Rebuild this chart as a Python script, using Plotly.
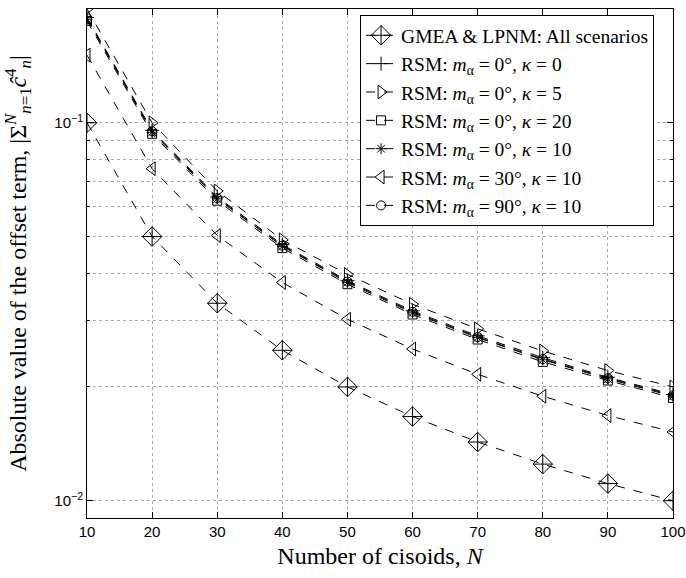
import plotly.graph_objects as go
import math

N = [10, 20, 30, 40, 50, 60, 70, 80, 90, 100]

gmea = [0.1, 0.05, 0.0333, 0.025, 0.02, 0.0167, 0.0143, 0.0125, 0.0111, 0.01]
rsm_0_k0 = [0.190, 0.0955, 0.0636, 0.0476, 0.0382, 0.0318, 0.0273, 0.0239, 0.0212, 0.0191]
rsm_0_k5 = [0.200, 0.100, 0.066, 0.049, 0.0397, 0.0331, 0.0285, 0.0249, 0.0221, 0.0200]
rsm_0_k20 = [0.186, 0.0935, 0.0622, 0.0466, 0.0374, 0.0311, 0.0267, 0.0233, 0.0208, 0.0187]
rsm_0_k10 = [0.188, 0.0944, 0.0629, 0.0471, 0.0378, 0.0314, 0.0270, 0.0236, 0.0210, 0.0189]
rsm_30_k10 = [0.151, 0.0756, 0.0503, 0.0378, 0.0302, 0.0252, 0.0216, 0.0189, 0.0168, 0.0152]
rsm_90_k10 = [0.189, 0.0950, 0.0632, 0.0473, 0.0380, 0.0316, 0.0271, 0.0237, 0.0211, 0.0190]

series = [
    ("GMEA &amp; LPNM: All scenarios", gmea, "diamond-cross-open", 15),
    ("RSM: <i>m</i><sub>α</sub> = 0°, <i>κ</i> = 0", rsm_0_k0, "cross-thin-open", 10),
    ("RSM: <i>m</i><sub>α</sub> = 0°, <i>κ</i> = 5", rsm_0_k5, "triangle-right-open", 12),
    ("RSM: <i>m</i><sub>α</sub> = 0°, <i>κ</i> = 20", rsm_0_k20, "square-open", 9),
    ("RSM: <i>m</i><sub>α</sub> = 0°, <i>κ</i> = 10", rsm_0_k10, "asterisk-open", 9),
    ("RSM: <i>m</i><sub>α</sub> = 30°, <i>κ</i> = 10", rsm_30_k10, "triangle-left-open", 12),
    ("RSM: <i>m</i><sub>α</sub> = 90°, <i>κ</i> = 10", rsm_90_k10, "circle-open", 9),
]

yticks = [0.01, 0.1]
yticktext = ["10<sup>−2</sup>", "10<sup>−1</sup>"]
yminor = [0.02, 0.03, 0.04, 0.05, 0.06, 0.07, 0.08, 0.09]

fig = go.Figure()
for i, (name, vals, sym, sz) in enumerate(series):
    fig.add_trace(go.Scatter(
        x=N, y=vals, name=name, mode="lines+markers",
        line=dict(color="black", width=1, dash="dash"),
        marker=dict(symbol=sym, size=sz, color="black", line=dict(color="black", width=1)),
    ))

serif = "Liberation Serif"
sans = "Liberation Sans"
gridc = "#aaaaaa"

fig.update_layout(
    width=686, height=578,
    margin=dict(l=87, r=13, t=9, b=60),
    paper_bgcolor="white", plot_bgcolor="white",
    showlegend=True,
    legend=dict(
        x=0.466, y=0.988, xanchor="left", yanchor="top",
        bordercolor="black", borderwidth=1, bgcolor="white",
        font=dict(family=serif, size=19.5, color="black"),
        tracegroupgap=0, itemwidth=30,
    ),
    xaxis=dict(
        range=[10, 100], tickvals=N, automargin=False,
        ticks="inside", ticklen=6, tickcolor="black",
        showline=True, linecolor="black", linewidth=1, mirror="allticks",
        showgrid=True, gridcolor=gridc, griddash="dot", gridwidth=1,
        zeroline=False, ticklabeloverflow="allow",
        tickfont=dict(family=sans, size=15, color="black"),
        title=dict(text="Number of cisoids, <i>N</i>", font=dict(family=serif, size=24, color="black"), standoff=8),
    ),
    yaxis=dict(
        type="log", range=[math.log10(0.009), math.log10(0.2)],
        tickvals=yticks, ticktext=yticktext, automargin=False,
        ticks="inside", ticklen=6, tickcolor="black",
        showline=True, linecolor="black", linewidth=1, mirror="allticks",
        showgrid=True, gridcolor=gridc, griddash="dot", gridwidth=1,
        zeroline=False,
        tickfont=dict(family=sans, size=15, color="black"),
        minor=dict(tickvals=yminor, ticks="inside", ticklen=3, tickcolor="black",
                   showgrid=True, gridcolor=gridc, griddash="dot", gridwidth=1),
        title=dict(text="Absolute value of the offset term, |Σ<sup><i>N</i></sup><sub><i>n</i>=1</sub><i>ĉ</i><sup>4</sup><sub><i>n</i></sub>|",
                   font=dict(family=serif, size=24, color="black"), standoff=20),
    ),
)

fig.write_html("out.html", config={"displayModeBar": False},
               post_script="document.body.style.margin='0';document.body.style.overflow='hidden';")
